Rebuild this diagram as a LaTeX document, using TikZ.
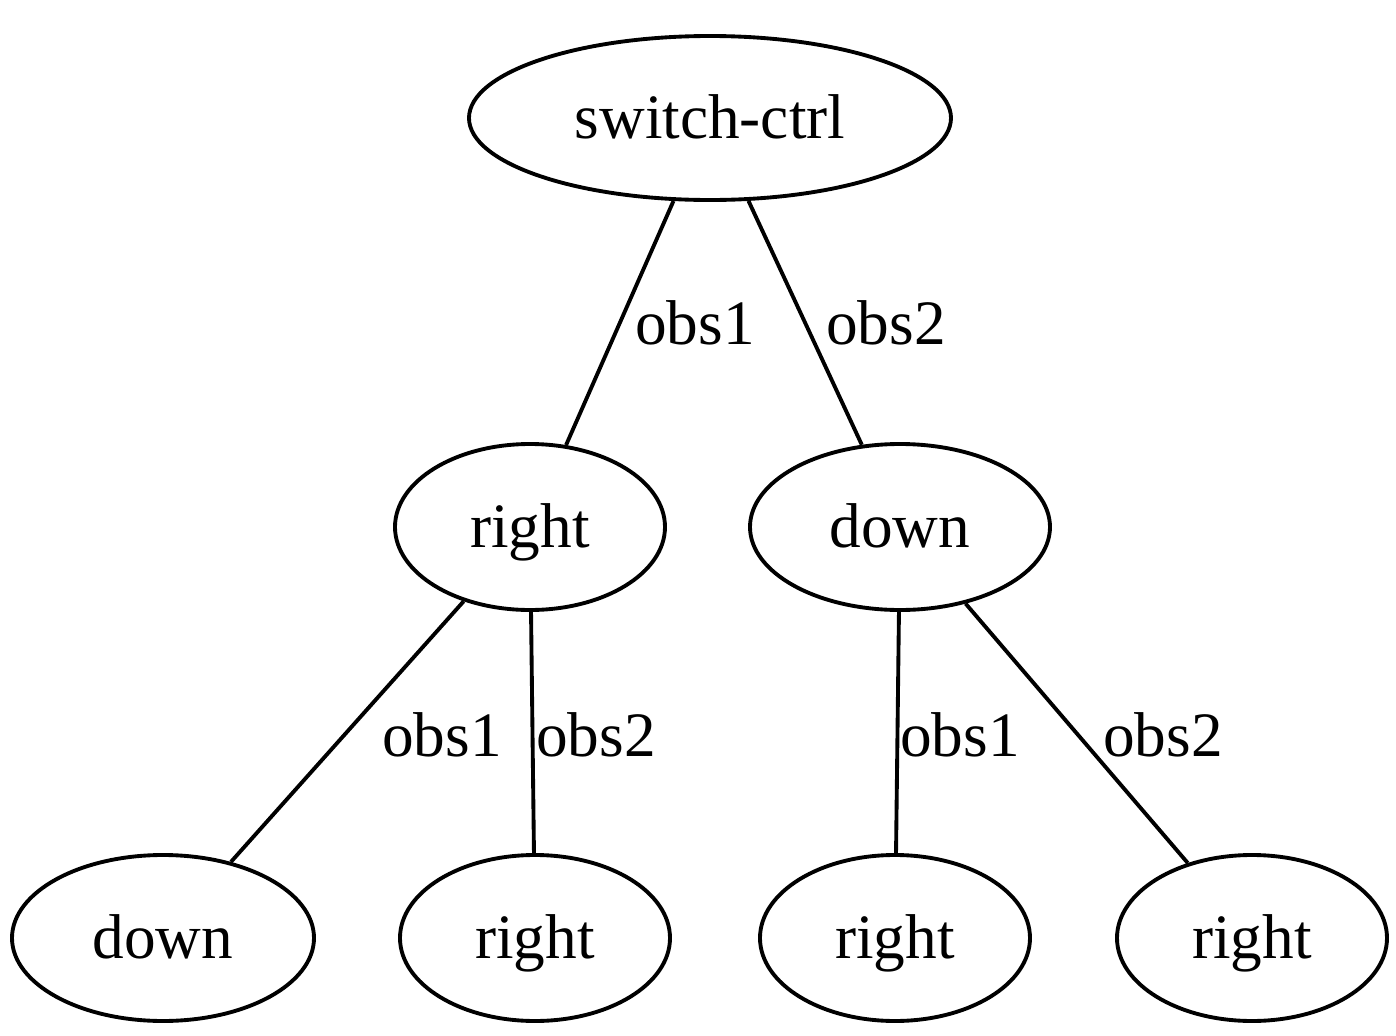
\documentclass[tikz,border=0pt]{standalone}
\usepackage{fontspec}
\setmainfont{Liberation Serif}
\usepackage{tikz}
\usetikzlibrary{shapes.geometric,positioning}

\begin{document}
\begin{tikzpicture}[
  on grid,
  state/.style={ellipse, draw=black, line width=1.1pt, inner sep=0pt, text height=12.5pt, text depth=1pt, minimum width=2.7cm, minimum height=1.66cm, font=\fontsize{18}{22}\selectfont},
  edge/.style={line width=1.1pt},
  lbl/.style={inner sep=0pt, font=\fontsize{18}{22}\selectfont}]
\useasboundingbox (0,0) rectangle (13.96,-10.36);
\node[state, minimum width=4.82cm, minimum height=1.64cm] (root) at (7.10,-1.18) {switch-ctrl};
\node[state, below left=4.09cm and 1.80cm of root] (right1) {right};
\node[state, minimum width=3.0cm, below right=4.09cm and 1.90cm of root] (down1) {down};
\node[state, minimum width=3.02cm, below left=4.11cm and 3.67cm of right1] (down2) {down};
\node[state, below right=4.11cm and 0.05cm of right1] (right2) {right};
\node[state, below left=4.11cm and 0.05cm of down1] (right3) {right};
\node[state, below right=4.11cm and 3.52cm of down1] (right4) {right};
\foreach \a/\b in {root/right1,root/down1,right1/down2,right1/right2,down1/right3,down1/right4} \draw[edge] (\a) -- (\b);
% edge labels
\node[lbl] (o11) at (6.95,-3.23) {obs1};
\node[lbl] (o12) at (8.86,-3.23) {obs2};
\node[lbl] (o21) at (4.42,-7.35) {obs1};
\node[lbl] (o22) at (5.96,-7.35) {obs2};
\node[lbl] (o31) at (9.60,-7.35) {obs1};
\node[lbl] (o32) at (11.63,-7.35) {obs2};
\end{tikzpicture}
\end{document}
